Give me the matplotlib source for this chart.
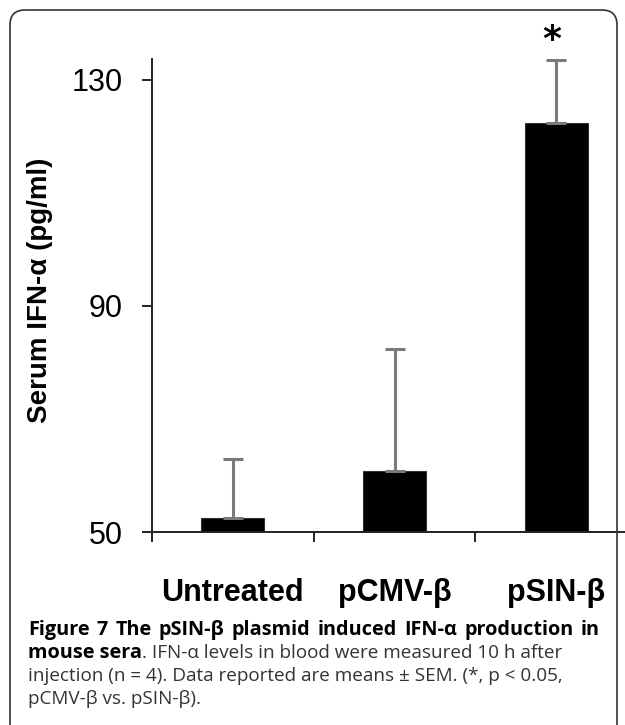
import matplotlib
matplotlib.use('Agg')
import matplotlib.pyplot as plt
from matplotlib.patches import FancyBboxPatch
from matplotlib.transforms import IdentityTransform

# data
groups = ['Untreated', 'pCMV-β', 'pSIN-β']
means = [52.4, 60.8, 122.3]
sem = [10.5, 21.5, 11.2]
yticks = [50, 90, 130]

plt.rcParams['font.family'] = ['Liberation Sans', 'DejaVu Sans']

W, H = 625, 725
fig = plt.figure(figsize=(W / 100, H / 100), dpi=100)

# axes placed in pixel terms
ax = fig.add_axes([152 / W, 1 - 532 / H, 485 / W, 473 / H])
x = list(range(len(groups)))

ax.bar(x, means, width=0.39, color='black', edgecolor='#333333', linewidth=0.8)
ax.errorbar(x, means, yerr=[[0] * len(sem), sem], fmt='none', ecolor='#7a7a7a',
            elinewidth=2.2, capsize=7.5, capthick=2.2)

ax.set_xlim(-0.5, 2.5)
ax.set_ylim(50, 133.7)
for s in ['top', 'right']:
    ax.spines[s].set_visible(False)
for s in ['left', 'bottom']:
    ax.spines[s].set_linewidth(1.4)
    ax.spines[s].set_color('#222222')

ax.set_yticks(yticks)
ax.set_yticklabels([str(v) for v in yticks])
ax.tick_params(axis='y', length=7, width=1.4, color='#222222', labelsize=22, pad=14)

# category separators as major ticks, names as minor ticks
ax.set_xticks([-0.5, 0.5, 1.5, 2.5])
ax.set_xticklabels(['', '', '', ''])
ax.tick_params(axis='x', which='major', length=7, width=1.4, color='#222222')
ax.set_xticks(x, minor=True)
ax.set_xticklabels(groups, minor=True, fontsize=22, fontweight='bold')
ax.tick_params(axis='x', which='minor', length=0, pad=33)

# significance star over pSIN-β
ax.annotate('*', xy=(2, means[2] + sem[2]), xytext=(-3, 2), textcoords='offset points',
            ha='center', va='bottom', fontsize=26, fontweight='bold',
            family='DejaVu Sans', annotation_clip=False)

fig.text(40 / W, 1 - 290 / H, 'Serum IFN-α (pg/ml)', rotation=90, fontsize=20,
         fontweight='bold', ha='center', va='center')

# caption
cap_font = ['Open Sans', 'DejaVu Sans']
bold_size = 14.3
reg_size = 13.6
x0, x1 = 28, 600
r = fig.canvas.get_renderer()

# first line is justified across the box
words = 'Figure 7 The pSIN-β plasmid induced IFN-α production in'.split()
widths = []
for w in words:
    t = fig.text(0, 0, w, fontsize=bold_size, fontweight='bold', family=cap_font)
    widths.append(t.get_window_extent(r).width)
    t.remove()
gap = (x1 - x0 - sum(widths)) / (len(words) - 1)
xp = x0
for w, wd in zip(words, widths):
    fig.text(xp / W, 1 - 630 / H, w, fontsize=bold_size, fontweight='bold',
             family=cap_font, va='center')
    xp += wd + gap

t = fig.text(x0 / W, 1 - 653 / H, 'mouse sera', fontsize=bold_size, fontweight='bold',
             family=cap_font, va='center')
bb = t.get_window_extent(r)
fig.text(bb.x1 / W, 1 - 653 / H, '. IFN-α levels in blood were measured 10 h after',
         fontsize=reg_size, family=cap_font, va='center', color='#333333')
fig.text(x0 / W, 1 - 676 / H, 'injection (n = 4). Data reported are means ± SEM. (*, p < 0.05,',
         fontsize=reg_size, family=cap_font, va='center', color='#333333')
fig.text(x0 / W, 1 - 699 / H, 'pCMV-β vs. pSIN-β).',
         fontsize=reg_size, family=cap_font, va='center', color='#333333')

# rounded frame around the figure
frame = FancyBboxPatch((10, -20), 607, 735, boxstyle='round,pad=0,rounding_size=15',
                       transform=IdentityTransform(), facecolor='none',
                       edgecolor='#333333', linewidth=1.2)
fig.patches.append(frame)

fig.savefig('out.png', dpi=100)
